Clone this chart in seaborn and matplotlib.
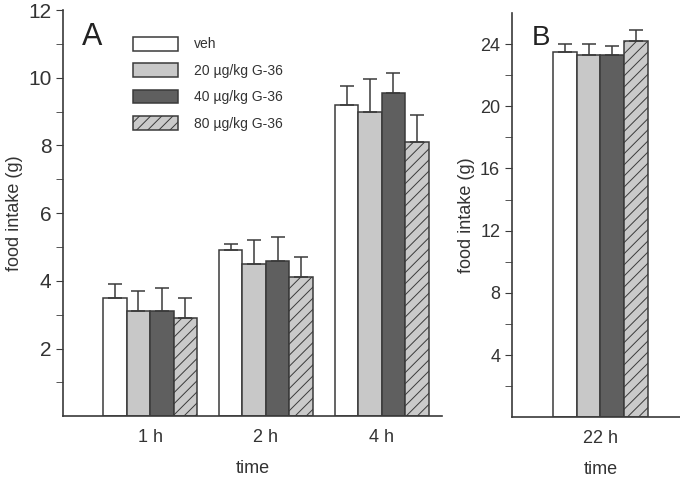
import numpy as np
import pandas as pd
import matplotlib
matplotlib.use('Agg')
import matplotlib.pyplot as plt
import matplotlib.patches as mpatches
import seaborn as sns

groups = ['veh', '20 \u00b5g/kg G-36', '40 \u00b5g/kg G-36', '80 \u00b5g/kg G-36']
times_a = ['1 h', '2 h', '4 h']
means_a = {
    'veh': [3.5, 4.9, 9.2],
    '20 \u00b5g/kg G-36': [3.1, 4.5, 9.0],
    '40 \u00b5g/kg G-36': [3.1, 4.6, 9.55],
    '80 \u00b5g/kg G-36': [2.9, 4.1, 8.1],
}
errs_a = {
    'veh': [0.4, 0.2, 0.55],
    '20 \u00b5g/kg G-36': [0.6, 0.7, 0.95],
    '40 \u00b5g/kg G-36': [0.7, 0.7, 0.6],
    '80 \u00b5g/kg G-36': [0.6, 0.6, 0.8],
}
times_b = ['22 h']
means_b = {'veh': [23.5], '20 \u00b5g/kg G-36': [23.3], '40 \u00b5g/kg G-36': [23.3], '80 \u00b5g/kg G-36': [24.2]}
errs_b = {'veh': [0.5], '20 \u00b5g/kg G-36': [0.7], '40 \u00b5g/kg G-36': [0.6], '80 \u00b5g/kg G-36': [0.7]}

fills = ['white', '#c8c8c8', '#5f5f5f', '#cacaca']
hatches = ['', '', '', '///']
edge = '#3a3a3a'
txt = '#333333'

sns.set_style('ticks')
plt.rcParams['font.family'] = ['Liberation Sans', 'DejaVu Sans']
plt.rcParams['hatch.color'] = '#404040'
plt.rcParams['hatch.linewidth'] = 0.7


def long_table(times, means):
    rows = []
    for g in groups:
        for t, v in zip(times, means[g]):
            rows.append({'time': t, 'group': g, 'value': v})
    return pd.DataFrame(rows)


def draw(ax, times, means, errs):
    df = long_table(times, means)
    sns.barplot(data=df, x='time', y='value', hue='group', hue_order=groups,
                order=times, palette=fills, width=0.81, errorbar=None,
                edgecolor=edge, linewidth=1.1, legend=False, ax=ax)
    # patches come out ordered by hue then by category
    for i, g in enumerate(groups):
        bars = ax.patches[i * len(times):(i + 1) * len(times)]
        for bar, m, e in zip(bars, means[g], errs[g]):
            bar.set_hatch(hatches[i])
            xc = bar.get_x() + bar.get_width() / 2
            ax.errorbar(xc, m, yerr=[[0], [e]], fmt='none', ecolor=edge,
                        elinewidth=1.1, capsize=5, capthick=1.1)
    for s in ['top', 'right']:
        ax.spines[s].set_visible(False)
    for s in ['left', 'bottom']:
        ax.spines[s].set_color(edge)
        ax.spines[s].set_linewidth(1.2)
    ax.tick_params(axis='x', length=0, labelsize=13, colors=txt, pad=9)
    ax.tick_params(axis='y', which='both', length=5, color=edge, colors=txt)
    ax.set_xlabel('time', fontsize=13, color=txt, labelpad=10)
    ax.set_ylabel('food intake (g)', fontsize=13, color=txt)


fig = plt.figure(figsize=(6.8, 4.79), dpi=100)
ax_a = fig.add_axes([0.093, 0.131, 0.557, 0.848])
ax_b = fig.add_axes([0.753, 0.129, 0.26, 0.844])

draw(ax_a, times_a, means_a, errs_a)
ax_a.set_xlim(-0.75, 2.52)
ax_a.set_ylim(0, 12)
ax_a.set_yticks([2, 4, 6, 8, 10, 12])
ax_a.set_yticks(np.arange(1, 12, 2), minor=True)
ax_a.tick_params(axis='y', labelsize=15)
ax_a.text(0.05, 0.97, 'A', transform=ax_a.transAxes, fontsize=22, va='top', color='#222222')

handles = [mpatches.Patch(facecolor=f, edgecolor=edge, hatch=h, linewidth=1.1)
           for f, h in zip(fills, hatches)]
ax_a.legend(handles, groups, loc='upper left', bbox_to_anchor=(0.15, 0.965), frameon=False,
            fontsize=10, handlelength=3.3, handleheight=1.15, labelspacing=0.85,
            handletextpad=1.1, labelcolor=txt)

draw(ax_b, times_b, means_b, errs_b)
ax_b.set_xlim(-0.76, 0.76)
ax_b.set_ylim(0, 26)
ax_b.set_yticks([4, 8, 12, 16, 20, 24])
ax_b.set_yticks(np.arange(2, 26, 4), minor=True)
ax_b.tick_params(axis='y', labelsize=13)
ax_b.text(0.11, 0.97, 'B', transform=ax_b.transAxes, fontsize=20, va='top', color='#222222')

fig.savefig('out.png', dpi=100)
